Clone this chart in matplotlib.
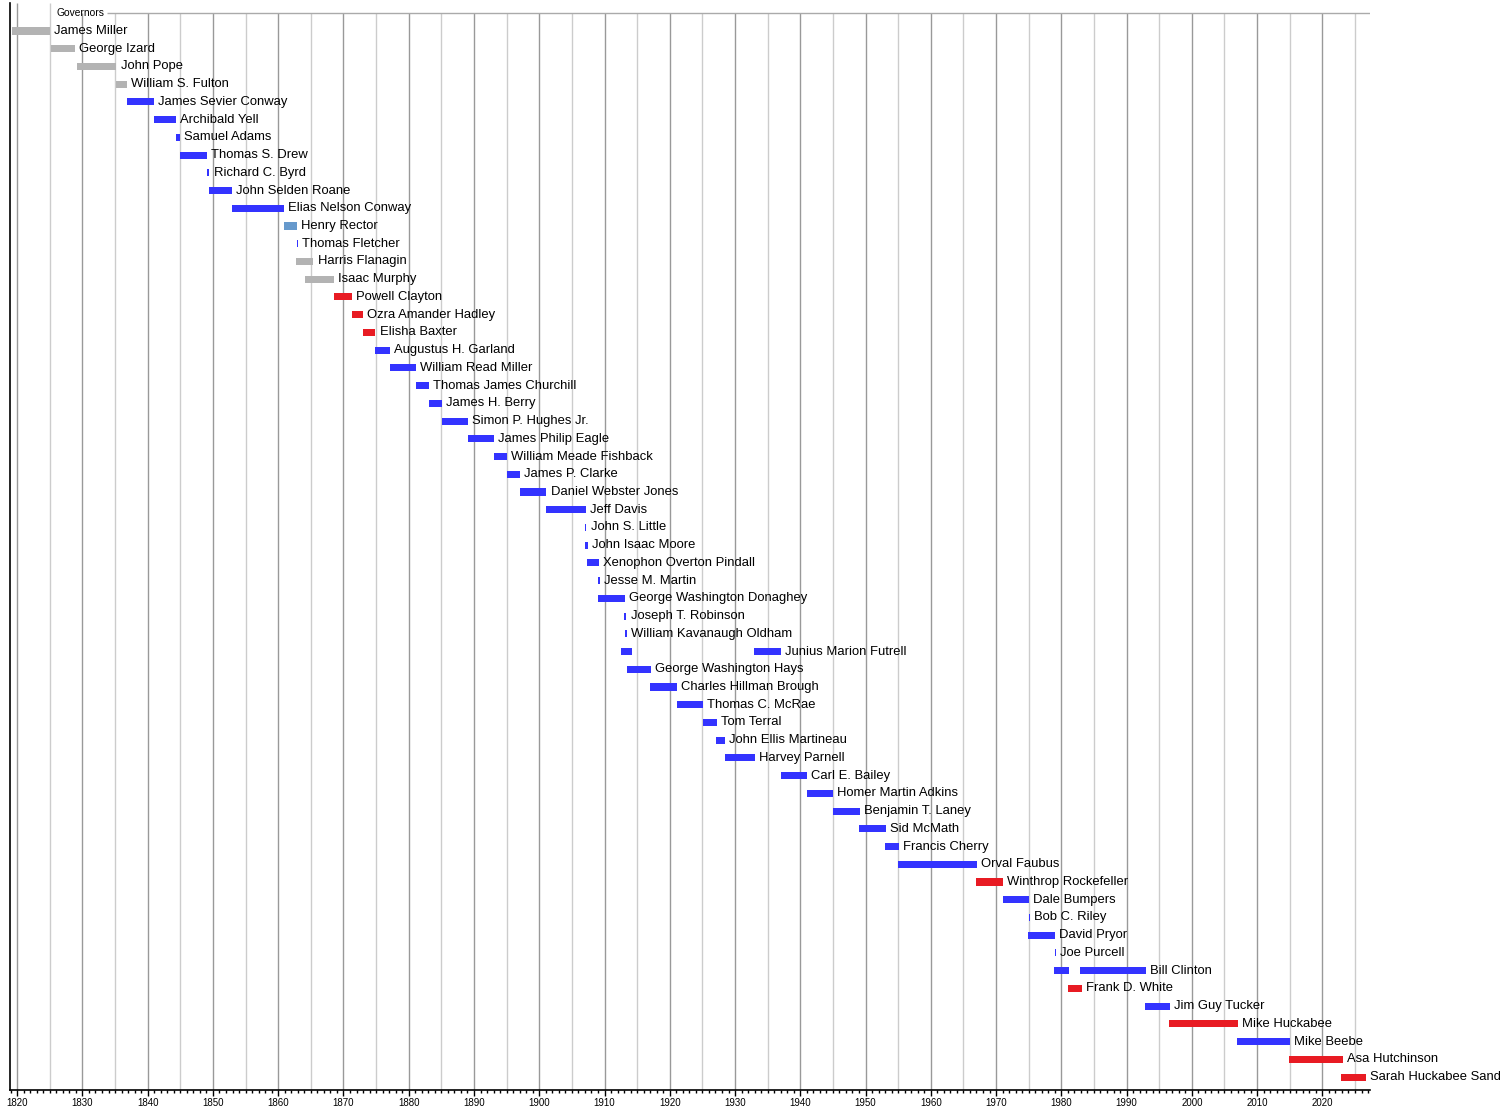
import matplotlib
matplotlib.use("Agg")
import matplotlib.pyplot as plt
from matplotlib.ticker import MultipleLocator

plt.rcParams['font.family'] = ['Liberation Sans', 'DejaVu Sans']

# -----------------
# Data (decimal years)
# -----------------

names = [
    "James Miller", "George Izard", "John Pope", "William S. Fulton",
    "James Sevier Conway", "Archibald Yell", "Samuel Adams", "Thomas S. Drew",
    "Richard C. Byrd", "John Selden Roane", "Elias Nelson Conway", "Henry Rector",
    "Thomas Fletcher", "Harris Flanagin", "Isaac Murphy", "Powell Clayton",
    "Ozra Amander Hadley", "Elisha Baxter", "Augustus H. Garland", "William Read Miller",
    "Thomas James Churchill", "James H. Berry", "Simon P. Hughes Jr.", "James Philip Eagle",
    "William Meade Fishback", "James P. Clarke", "Daniel Webster Jones", "Jeff Davis",
    "John S. Little", "John Isaac Moore", "Xenophon Overton Pindall", "Jesse M. Martin",
    "George Washington Donaghey", "Joseph T. Robinson", "William Kavanaugh Oldham",
    "Junius Marion Futrell", "George Washington Hays", "Charles Hillman Brough",
    "Thomas C. McRae", "Tom Terral", "John Ellis Martineau", "Harvey Parnell",
    "Carl E. Bailey", "Homer Martin Adkins", "Benjamin T. Laney", "Sid McMath",
    "Francis Cherry", "Orval Faubus", "Winthrop Rockefeller", "Dale Bumpers",
    "Bob C. Riley", "David Pryor", "Joe Purcell", "Bill Clinton", "Frank D. White",
    "Jim Guy Tucker", "Mike Huckabee", "Mike Beebe", "Asa Hutchinson",
    "Sarah Huckabee Sanders",
]

# one list of (start, end) terms per governor
terms = [
    [(1819.2, 1825.0)], [(1825.2, 1828.9)], [(1829.2, 1835.2)], [(1835.2, 1836.8)],
    [(1836.8, 1840.9)], [(1840.9, 1844.3)], [(1844.3, 1844.9)], [(1844.9, 1849.1)],
    [(1849.1, 1849.45)], [(1849.4, 1852.9)], [(1852.9, 1860.9)], [(1860.9, 1862.9)],
    [(1862.85, 1863.05)], [(1862.8, 1865.4)], [(1864.1, 1868.5)], [(1868.5, 1871.3)],
    [(1871.3, 1873.0)], [(1873.0, 1874.9)], [(1874.9, 1877.1)], [(1877.1, 1881.1)],
    [(1881.1, 1883.1)], [(1883.1, 1885.1)], [(1885.1, 1889.1)], [(1889.1, 1893.1)],
    [(1893.1, 1895.1)], [(1895.1, 1897.1)], [(1897.1, 1901.1)], [(1901.1, 1907.1)],
    [(1907.05, 1907.22)], [(1907.05, 1907.4)], [(1907.3, 1909.15)], [(1909.05, 1909.25)],
    [(1909.0, 1913.1)], [(1913.05, 1913.35)], [(1913.2, 1913.38)],
    [(1912.6, 1914.2), (1932.9, 1937.0)], [(1913.5, 1917.1)], [(1917.0, 1921.1)],
    [(1921.1, 1925.1)], [(1925.1, 1927.2)], [(1927.1, 1928.5)], [(1928.4, 1933.0)],
    [(1937.0, 1941.0)], [(1941.0, 1945.0)], [(1945.0, 1949.2)], [(1949.0, 1953.1)],
    [(1953.0, 1955.1)], [(1955.0, 1967.1)], [(1967.0, 1971.1)], [(1971.0, 1975.0)],
    [(1975.0, 1975.2)], [(1974.9, 1979.0)], [(1979.0, 1979.2)],
    [(1978.9, 1981.1), (1982.9, 1993.0)], [(1981.0, 1983.1)], [(1992.8, 1996.6)],
    [(1996.5, 2007.1)], [(2006.9, 2015.0)], [(2014.9, 2023.1)], [(2022.9, 2026.7)],
]

parties = (["other"] * 4 + ["dem"] * 7 + ["ind_dem", "dem", "other", "other"]
           + ["rep"] * 3 + ["dem"] * 30 + ["rep"] + ["dem"] * 5 + ["rep", "dem", "rep", "dem", "rep", "rep"])

party_colors = {
    "other": "#b3b3b3",
    "dem": "#3333ff",
    "ind_dem": "#6699cc",
    "rep": "#e81b23",
}

# -----------------
# Plot
# -----------------

fig = plt.figure(figsize=(15, 11.1), dpi=100)
ax = fig.add_axes([10 / 1500, 1 - 1090 / 1110, 1360 / 1500, 1087 / 1110])

y_top = -1.579      # top of axes
y_header = -1.015   # header line with the "Governors" label

# vertical guides every 5 years, darker on decades
for yr in range(1820, 2030, 5):
    top = y_top if yr < 1830 else y_header
    ax.vlines(yr, 59.73, top, color="#999999" if yr % 10 == 0 else "#cccccc",
              linewidth=1, zorder=0)

ax.hlines(y_header, 1833.75, 2027.3, color="#aaaaaa", linewidth=1, zorder=1)
ax.text(1826.1, y_header, "Governors", fontsize=7.4, va="center", ha="left", zorder=4)

for i, (name, spans, party) in enumerate(zip(names, terms, parties)):
    col = party_colors[party]
    for start, end in spans:
        ax.barh(i, end - start, left=start, height=0.4, color=col, linewidth=0, zorder=2)
    ax.annotate(name, xy=(spans[-1][1], i), xytext=(3, 0), textcoords="offset points",
                va="center", ha="left", fontsize=9.4, color="black", zorder=3,
                annotation_clip=False)

ax.set_xlim(1818.9, 2027.3)
ax.set_ylim(59.73, y_top)

ax.xaxis.set_major_locator(MultipleLocator(10))
ax.xaxis.set_minor_locator(MultipleLocator(1))
ax.tick_params(axis="x", which="major", length=4, width=1, labelsize=7, pad=2)
ax.tick_params(axis="x", which="minor", length=2, width=1)
ax.set_yticks([])

ax.spines["right"].set_visible(False)
ax.spines["top"].set_visible(False)
ax.spines["left"].set_linewidth(1.2)
ax.spines["bottom"].set_linewidth(1.2)

fig.savefig("out.png", dpi=100)
